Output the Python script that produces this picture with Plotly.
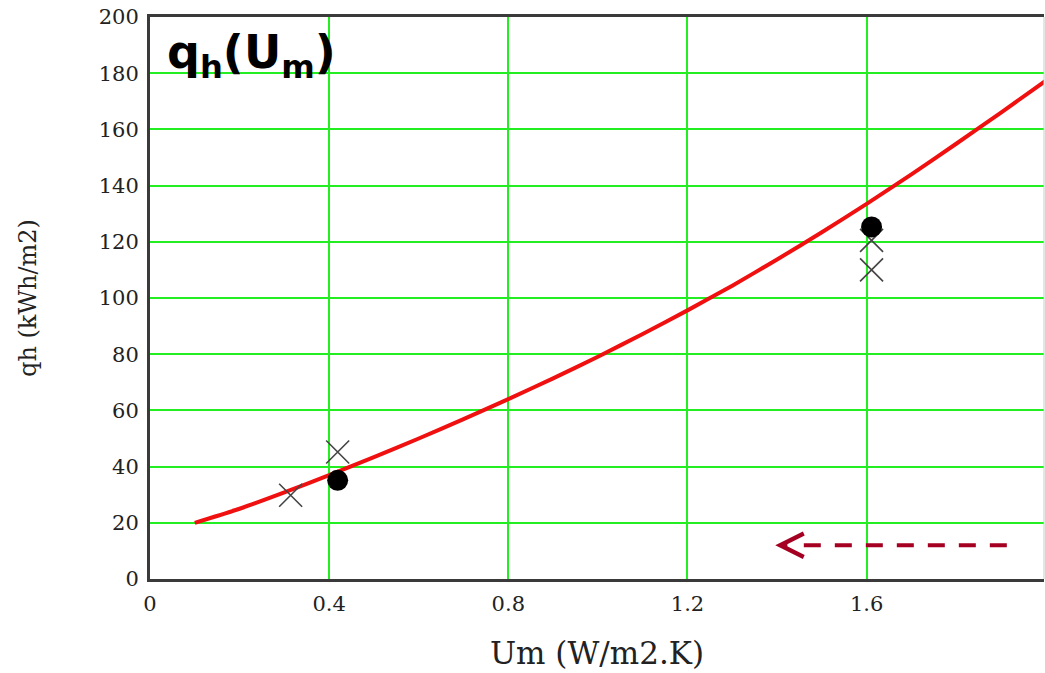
import plotly.graph_objects as go

# ---- data ----
um_curve = [0.1, 0.2, 0.3, 0.4, 0.5, 0.6, 0.7, 0.8, 0.9, 1.0,
            1.1, 1.2, 1.3, 1.4, 1.5, 1.6, 1.7, 1.8, 1.9, 2.0]
qh_curve = [20, 25, 30.8, 37, 43.4, 50, 56.9, 64, 71.4, 79.1,
            87.2, 95.6, 104.4, 113.7, 123.4, 133.5, 144, 154.9, 166, 177.3]

um_cross = [0.314, 0.419, 1.611, 1.611]
qh_cross = [29.8, 45.2, 120.5, 110.0]

um_dot = [0.419, 1.611]
qh_dot = [35.1, 125.3]

x_tickvals = [0, 0.4, 0.8, 1.2, 1.6]
x_ticktext = ["0", "0.4", "0.8", "1.2", "1.6"]
y_tickvals = [0, 20, 40, 60, 80, 100, 120, 140, 160, 180, 200]

arrow_tail_x = 1.913
arrow_dash_end_x = 1.455
arrow_tip_x = 1.396
arrow_y = 12.0

SERIF = "DejaVu Serif"
TICK_COLOR = "#222222"
GRID = "#22EE22"
ARROW_COLOR = "#A50021"

fig = go.Figure()

fig.add_trace(go.Scatter(
    x=um_curve, y=qh_curve, mode="lines",
    line=dict(color="#F01010", width=4, shape="spline", smoothing=0.5),
    hoverinfo="skip", showlegend=False))

fig.add_trace(go.Scatter(
    x=um_cross, y=qh_cross, mode="markers",
    marker=dict(symbol="x-thin-open", size=23, color="#444444",
                line=dict(color="#444444", width=1.6)),
    hoverinfo="skip", showlegend=False))

fig.add_trace(go.Scatter(
    x=um_dot, y=qh_dot, mode="markers",
    marker=dict(symbol="circle", size=21, color="#000000"),
    hoverinfo="skip", showlegend=False))

# dashed arrow shaft (drawn right to left)
fig.add_trace(go.Scatter(
    x=[arrow_tail_x, arrow_dash_end_x], y=[arrow_y, arrow_y], mode="lines",
    line=dict(color=ARROW_COLOR, width=4, dash="17px,14px"),
    hoverinfo="skip", showlegend=False))

fig.add_annotation(
    x=arrow_tip_x, y=arrow_y, xref="x", yref="y",
    ax=arrow_tip_x + 0.03, ay=arrow_y, axref="x", ayref="y",
    text="", showarrow=True, arrowhead=5, arrowsize=1.15,
    arrowwidth=4, arrowcolor=ARROW_COLOR)

# chart title inside plot
fig.add_annotation(
    x=0.017, y=0.99, xref="paper", yref="paper",
    xanchor="left", yanchor="top", showarrow=False,
    text="<b>q<sub>h</sub>(U<sub>m</sub>)</b>",
    font=dict(family="DejaVu Sans", size=46, color="#000000"))

# right border (light)
fig.add_shape(type="line", xref="paper", yref="paper",
              x0=1, x1=1, y0=0, y1=1,
              line=dict(color="#CCCCCC", width=1))

fig.update_xaxes(
    range=[0, 1.996], tickvals=x_tickvals, ticktext=x_ticktext,
    showgrid=True, gridcolor=GRID, gridwidth=2,
    zeroline=False, showline=True, linecolor="#3A3A3A", linewidth=3,
    mirror=True, ticks="", ticklabelstandoff=4,
    tickfont=dict(family=SERIF, size=21, color=TICK_COLOR),
    title=dict(text="Um (W/m2.K)", standoff=28,
               font=dict(family=SERIF, size=31, color="#222222")))

fig.update_yaxes(
    range=[0, 200], tickvals=y_tickvals,
    showgrid=True, gridcolor=GRID, gridwidth=2,
    zeroline=False, showline=True, linecolor="#3A3A3A", linewidth=3,
    ticks="", ticklabelstandoff=4,
    tickfont=dict(family=SERIF, size=21, color=TICK_COLOR),
    title=dict(text="qh (kWh/m2)", standoff=56,
               font=dict(family=SERIF, size=24, color="#222222")))

fig.update_layout(
    width=1045, height=673,
    margin=dict(l=150, r=1, t=17, b=94),
    paper_bgcolor="white", plot_bgcolor="white",
    showlegend=False)

fig.write_html(
    "out.html",
    config={"displayModeBar": False, "staticPlot": True},
    post_script="document.body.style.margin='0';"
                "document.body.style.overflow='hidden';")
